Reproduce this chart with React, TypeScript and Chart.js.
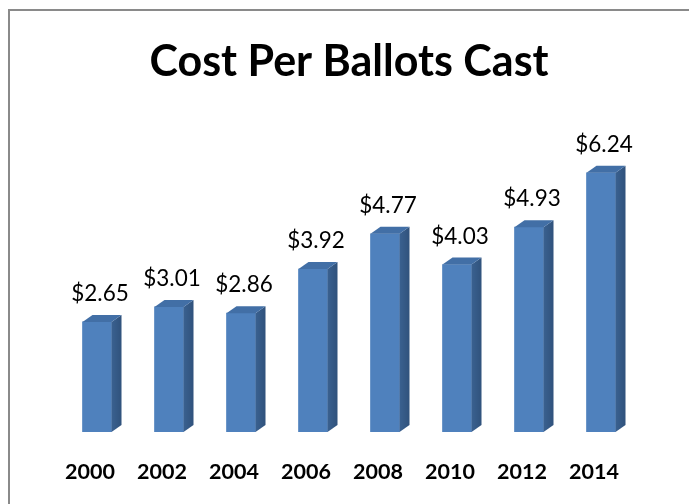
import React, { useEffect, useRef } from "react";
import { Chart, registerables } from "chart.js";

Chart.register(...registerables);

const categories = ["2000", "2002", "2004", "2006", "2008", "2010", "2012", "2014"];
const costValues = [2.65, 3.01, 2.86, 3.92, 4.77, 4.03, 4.93, 6.24];
const valueLabels = ["$2.65", "$3.01", "$2.86", "$3.92", "$4.77", "$4.03", "$4.93", "$6.24"];
const chartTitle = "Cost Per Ballots Cast";

const FONT = "Lato, Carlito, Calibri, 'Open Sans', sans-serif";
const DX = 10;
const DY = 7;

const bar3dPlugin = {
  id: "bar3d",
  beforeDraw(chart: any) {
    const ctx = chart.ctx;
    ctx.save();
    ctx.fillStyle = "#ffffff";
    ctx.fillRect(0, 0, chart.width, chart.height);
    ctx.fillStyle = "#8a8a8a";
    ctx.fillRect(8, 9, 2, chart.height - 9);
    ctx.fillRect(8, 9, chart.width - 8, 2);
    ctx.restore();
  },
  afterDatasetsDraw(chart: any) {
    const ctx = chart.ctx;
    const meta = chart.getDatasetMeta(0);
    ctx.save();
    meta.data.forEach((bar: any, i: number) => {
      const { x, y, base, width } = bar.getProps(["x", "y", "base", "width"], true);
      const l = x - width / 2;
      const r = x + width / 2;
      const g = ctx.createLinearGradient(r, 0, r + DX, 0);
      g.addColorStop(0, "#3A6190");
      g.addColorStop(1, "#30527C");
      ctx.fillStyle = g;
      ctx.beginPath();
      ctx.moveTo(r, y);
      ctx.lineTo(r + DX, y - DY);
      ctx.lineTo(r + DX, base - DY);
      ctx.lineTo(r, base);
      ctx.closePath();
      ctx.fill();
      ctx.fillStyle = "#426FA6";
      ctx.beginPath();
      ctx.moveTo(l, y);
      ctx.lineTo(l + DX, y - DY);
      ctx.lineTo(r + DX, y - DY);
      ctx.lineTo(r, y);
      ctx.closePath();
      ctx.fill();
      ctx.fillStyle = "#000000";
      ctx.font = `22.5px ${FONT}`;
      ctx.textAlign = "center";
      ctx.textBaseline = "alphabetic";
      ctx.fillText(valueLabels[i], x + 3, y - 21);
    });
    ctx.restore();
  },
};

export default function App() {
  const ref = useRef<HTMLCanvasElement | null>(null);
  useEffect(() => {
    if (!ref.current) return;
    const chart = new Chart(ref.current, {
      type: "bar",
      data: {
        labels: categories,
        datasets: [
          {
            data: costValues,
            backgroundColor: "#4F81BD",
            borderWidth: 0,
            barThickness: 29,
          },
        ],
      },
      options: {
        responsive: false,
        animation: false,
        layout: { padding: { left: 61, right: 52, top: 0, bottom: -8 } },
        plugins: {
          legend: { display: false },
          tooltip: { enabled: false },
          title: {
            display: true,
            text: chartTitle,
            color: "#000000",
            font: { family: FONT, size: 43, weight: "bold", lineHeight: 1.2 },
            padding: { top: 36, bottom: 12 },
          },
        },
        scales: {
          x: {
            grid: { display: false, drawTicks: false },
            border: { display: false },
            ticks: {
              color: "#000000",
              font: { family: FONT, size: 21.5, weight: "bold", lineHeight: 24 / 21.5 },
              padding: 28,
              labelOffset: -7,
              maxRotation: 0,
            },
          },
          y: {
            display: false,
            min: 0,
            max: 8,
          },
        },
      },
      plugins: [bar3dPlugin],
    });
    return () => chart.destroy();
  }, []);
  return (
    <div style={{ position: "absolute", left: 0, top: 0, width: 689, height: 504 }}>
      <canvas ref={ref} width={689} height={504} style={{ display: "block" }} />
    </div>
  );
}
